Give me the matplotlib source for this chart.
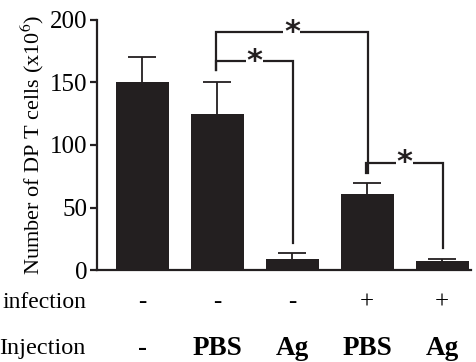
import matplotlib
matplotlib.use("Agg")
import matplotlib.pyplot as plt
from matplotlib.transforms import blended_transform_factory

groups = ["1", "2", "3", "4", "5"]
values = [150, 125, 9, 61, 7]
errors = [20, 25, 5, 9, 2]
infection = ["-", "-", "-", "+", "+"]
injection = ["-", "PBS", "Ag", "PBS", "Ag"]
yticks = [0, 50, 100, 150, 200]

# significance brackets: (left bar, right bar, bracket level, left drop end, right drop end)
brackets = [
    (1, 3, 190, 160, 78),
    (1, 2, 167, 160, 22),
    (3, 4, 86, 78, 18),
]

plt.rcParams['font.family'] = ['Liberation Serif', 'DejaVu Serif']
plt.rcParams['mathtext.fontset'] = 'stix'

fig = plt.figure(figsize=(4.76, 3.62), dpi=100)
ax = fig.add_axes([0.2038, 0.2541, 0.7862, 0.6907])

x = list(range(len(values)))
black = "#231f20"
ax.bar(x, values, width=0.707, color=black, zorder=2)
eb = ax.errorbar(x, values, yerr=[[0]*len(errors), errors], fmt='none', ecolor=black,
                 elinewidth=1.3, capsize=10, capthick=1.3, zorder=1)
caps = eb[1]
if len(caps) == 2:
    caps[0].set_visible(False)

ax.set_xlim(-0.607, 4.39)
ax.set_ylim(0, 200)
ax.set_yticks(yticks)
ax.set_yticklabels([str(t) for t in yticks], fontsize=18)
ax.set_xticks([])
for s in ['top', 'right']:
    ax.spines[s].set_visible(False)
for s in ['left', 'bottom']:
    ax.spines[s].set_linewidth(1.6)
    ax.spines[s].set_color(black)
ax.tick_params(axis='y', length=5, width=1.6, color=black, pad=2)
ax.set_ylabel("Number of DP T cells (x10$^{6}$)", fontsize=16, labelpad=3)

# bracket lines
for (a, b, lvl, la, lb) in brackets:
    xa, xb = a - 0.02, b + 0.01
    ax.plot([xa, xa, xb, xb], [la, lvl, lvl, lb], color=black, lw=1.6,
            solid_joinstyle='miter', clip_on=False, zorder=3)
    ax.text((xa + xb) / 2, lvl, "*", ha='center', va='center', fontsize=22,
            fontweight='bold', family=['DejaVu Sans'], color=black,
            bbox=dict(facecolor='white', edgecolor='none', pad=0.5), zorder=4)

trans = blended_transform_factory(ax.transData, ax.transAxes)
ax.text(-0.75, -0.128, "infection", transform=trans, ha='right', va='center', fontsize=17)
ax.text(-0.76, -0.312, "Injection", transform=trans, ha='right', va='center', fontsize=17.5)
for i in x:
    ax.text(i, -0.128, infection[i], transform=trans, ha='center', va='center', fontsize=18)
    bold = 'bold' if injection[i] != '-' else 'normal'
    ax.text(i, -0.312, injection[i], transform=trans, ha='center', va='center',
            fontsize=19.5, fontweight=bold)

fig.savefig("out.png", dpi=100)
